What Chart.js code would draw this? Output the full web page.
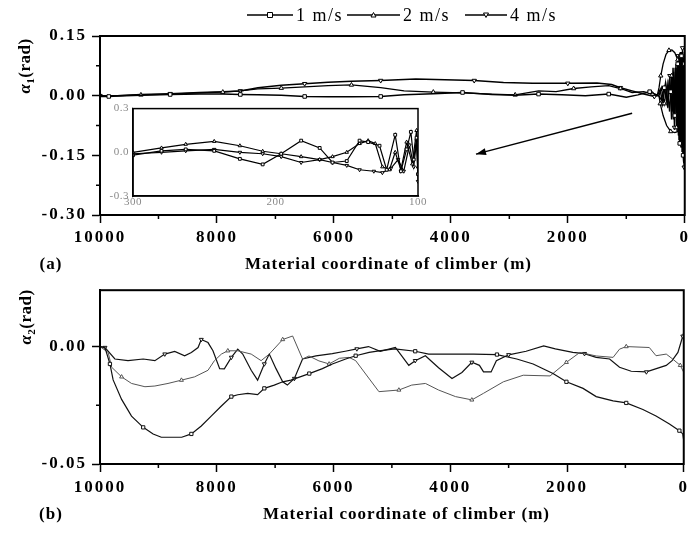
<!DOCTYPE html>
<html>
<head>
<meta charset="utf-8">
<script src="https://cdn.jsdelivr.net/npm/chart.js@4/dist/chart.umd.min.js"></script>
<style>
  html, body { margin: 0; padding: 0; background: #fff; }
  #wrap { position: relative; width: 693px; height: 533px; overflow: hidden; background: #fff; }
  #wrap canvas { position: absolute; }
</style>
</head>
<body>
<div id="wrap">
  <canvas id="topChart" width="693" height="275" style="left:0;top:0"></canvas>
  <canvas id="insetChart" width="330" height="112" style="left:100px;top:98px"></canvas>
  <canvas id="botChart" width="693" height="258" style="left:0;top:275px"></canvas>
</div>
<script>
// ---------- series labels ----------
const speeds = ['1 m/s', '2 m/s', '4 m/s'];

// ---------- (a) alpha_1 vs material coordinate [m, rad] ----------
const a1_1ms = [
  [10000,-0.002],[9850,-0.002],[9700,-0.001],[9300,0.001],[8800,0.003],[8300,0.004],[7900,0.004],
  [7600,0.003],[7300,0.002],[6900,0.001],[6500,-0.002],[6100,-0.003],[5700,-0.003],[5200,-0.002],
  [4800,0.002],[4300,0.005],[3800,0.008],[3300,0.003],[2900,0.001],[2500,0.004],[2100,0.002],
  [1700,0.0],[1300,0.004],[1000,-0.004],[800,0.002],[600,0.010],[450,0.0],[400,-0.01],[350,0.02],
  [300,-0.02],[270,0.03],[240,0.01],[215,-0.04],[190,0.06],[170,-0.05],[150,0.07],[135,-0.06],
  [120,0.08],[108,-0.10],[96,0.10],[86,-0.12],[76,0.11],[66,-0.13],[56,0.10],[46,-0.14],[36,0.11],
  [28,-0.15],[20,0.10],[13,-0.17],[7,0.08],[3,-0.10],[0,0.05]
];
const a1_2ms = [
  [10000,0],[9700,0],[9300,0.002],[8800,0.004],[8300,0.007],[7900,0.009],[7600,0.012],[7300,0.017],
  [6900,0.019],[6500,0.022],[6100,0.025],[5700,0.027],[5200,0.020],[4800,0.012],[4300,0.009],
  [3800,0.007],[3300,0.004],[2900,0.002],[2500,0.012],[2200,0.010],[1900,0.018],[1600,0.022],
  [1300,0.025],[1100,0.018],[900,0.008],[700,0.010],[550,0.004],[470,0.0],[440,0.02],[410,0.05],
  [370,0.08],[320,0.104],[270,0.114],[220,0.115],[170,0.108],[120,0.09],[75,0.06],[40,0.03],
  [22,0.0],[20,-0.03],[30,-0.06],[60,-0.08],[110,-0.09],[170,-0.093],[240,-0.09],[310,-0.075],
  [370,-0.05],[420,-0.02],[440,0.0],[400,0.02],[350,-0.02],[300,0.03],[260,-0.04],[225,0.05],
  [195,-0.06],[165,0.07],[140,-0.08],[118,0.09],[100,-0.1],[84,0.1],[70,-0.11],[57,0.09],
  [45,-0.12],[34,0.1],[24,-0.14],[15,0.09],[8,-0.16],[3,0.07],[0,-0.06]
];
const a1_4ms = [
  [10000,0],[9700,0],[9300,0.003],[8800,0.005],[8300,0.008],[7900,0.010],[7600,0.012],[7300,0.020],
  [6900,0.026],[6500,0.030],[6100,0.034],[5700,0.036],[5200,0.038],[4600,0.042],[4100,0.040],
  [3600,0.038],[3100,0.033],[2600,0.031],[2000,0.031],[1500,0.032],[1250,0.028],[1100,0.020],
  [900,0.012],[700,0.004],[520,-0.002],[470,0.0],[420,0.015],[380,-0.02],[330,0.03],[290,-0.03],
  [255,0.05],[225,-0.06],[200,0.07],[175,-0.08],[150,0.08],[130,-0.09],[112,0.10],[98,-0.11],
  [85,0.10],[72,-0.12],[60,0.11],[48,-0.13],[38,0.12],[28,-0.15],[18,0.10],[10,-0.18],[4,0.09],[0,-0.04]
];

// ---------- (a) inset: last 300 m to 100 m ----------
const in_1ms = [
  [300,-0.02],[280,0.01],[263,0.02],[243,0.01],[225,-0.045],[209,-0.083],[196,-0.01],[182,0.08],
  [169,0.03],[160,-0.07],[150,-0.06],[141,0.08],[135,0.07],[127,0.045],[122,-0.12],[116,0.12],
  [112,-0.13],[108,0.02],[105,0.14],[103,-0.05],[101,0.10],[100,-0.15]
];
const in_2ms = [
  [300,0.0],[280,0.03],[263,0.055],[243,0.075],[225,0.045],[209,0.007],[196,-0.01],[182,-0.03],
  [169,-0.05],[160,-0.03],[150,0.0],[141,0.06],[135,0.08],[130,0.06],[125,-0.10],[120,-0.12],
  [116,0.0],[112,-0.12],[108,0.07],[104,-0.08],[101,0.15],[100,-0.10]
];
const in_4ms = [
  [300,-0.01],[280,0.0],[263,0.01],[243,0.02],[225,0.0],[209,-0.01],[196,-0.03],[182,-0.07],
  [169,-0.05],[160,-0.07],[150,-0.09],[141,-0.12],[131,-0.13],[125,-0.14],[119,-0.11],[114,-0.05],
  [110,-0.13],[106,0.05],[103,-0.10],[101,0.08],[100,-0.20]
];

// ---------- (b) alpha_2 vs material coordinate [m, rad] ----------
const a2_1ms = [
  [10000,0],[9915,-0.0004],[9830,-0.0074],[9775,-0.0142],[9630,-0.0225],[9460,-0.0296],[9260,-0.0344],
  [9090,-0.0372],[8950,-0.0386],[8600,-0.0386],[8435,-0.0372],[8265,-0.0338],[8095,-0.0296],
  [7925,-0.0254],[7750,-0.0213],[7640,-0.0205],[7470,-0.0199],[7300,-0.0205],[7185,-0.0178],
  [7015,-0.0164],[6870,-0.015],[6730,-0.0143],[6415,-0.0115],[6190,-0.0094],[6020,-0.0074],
  [5790,-0.0053],[5620,-0.0039],[5390,-0.0025],[5220,-0.0018],[4950,-0.001],[4600,-0.002],
  [4370,-0.0032],[4000,-0.0032],[3600,-0.0032],[3200,-0.0034],[2860,-0.0053],[2580,-0.0074],
  [2240,-0.0115],[2010,-0.015],[1725,-0.0178],[1500,-0.0213],[1210,-0.0231],[985,-0.024],
  [700,-0.0268],[475,-0.0296],[245,-0.033],[75,-0.0358],[17,-0.0372],[0,-0.040]
];
const a2_2ms = [
  [10000,0],[9860,-0.0025],[9800,-0.0088],[9630,-0.0129],[9460,-0.0157],[9230,-0.0171],[9060,-0.0168],
  [8835,-0.0157],[8605,-0.0143],[8380,-0.0129],[8150,-0.0101],[8040,-0.006],[7920,-0.0032],
  [7810,-0.0018],[7640,-0.0018],[7410,-0.0032],[7240,-0.006],[7100,-0.0032],[6870,0.003],
  [6700,0.0045],[6530,-0.0053],[6420,-0.004],[6250,-0.0061],[6075,-0.0074],[5900,-0.005],
  [5734,-0.0046],[5620,-0.006],[5222,-0.0192],[4880,-0.0185],[4660,-0.0164],[4425,-0.0157],
  [4200,-0.0185],[3910,-0.0213],[3630,-0.0227],[3430,-0.0199],[3090,-0.015],[2750,-0.0122],
  [2290,-0.0125],[2010,-0.0067],[1780,-0.0025],[1500,-0.004],[1210,-0.0046],[1100,-0.0011],
  [985,0.0],[590,-0.0004],[475,-0.0039],[300,-0.0032],[190,-0.0053],[60,-0.008],[0,-0.011]
];
const a2_4ms = [
  [10000,0],[9915,-0.0004],[9745,-0.0053],[9520,-0.006],[9260,-0.0053],[9060,-0.006],[8890,-0.0032],
  [8720,-0.0021],[8550,-0.0039],[8435,-0.0025],[8320,-0.0004],[8265,0.003],[8150,0.0017],
  [8065,-0.0018],[7950,-0.0094],[7870,-0.0095],[7750,-0.0046],[7640,-0.0011],[7555,-0.0032],
  [7410,-0.0101],[7300,-0.0143],[7185,-0.0074],[7100,-0.0032],[6985,-0.0094],[6870,-0.015],
  [6790,-0.0164],[6670,-0.0136],[6530,-0.0053],[6300,-0.004],[6020,-0.003],[5800,-0.002],
  [5600,-0.001],[5400,0.0],[5200,-0.002],[4940,-0.0004],[4710,-0.008],[4600,-0.006],[4426,-0.0039],
  [4200,-0.009],[3970,-0.0136],[3800,-0.011],[3630,-0.0067],[3500,-0.008],[3430,-0.0108],
  [3300,-0.0108],[3210,-0.006],[3000,-0.0035],[2700,-0.002],[2400,0.0003],[2200,-0.001],
  [1900,-0.0025],[1700,-0.003],[1500,-0.0046],[1270,-0.0053],[1100,-0.0088],[900,-0.0105],
  [640,-0.0108],[470,-0.0094],[300,-0.008],[200,-0.006],[100,-0.0025],[17,0.0044],[0,0.006]
];

// ---------- axis ticks ----------
const xMajor = [10000, 8000, 6000, 4000, 2000, 0];
const xMinor = [9000, 7000, 5000, 3000, 1000];
const yMinorA = [0.075, -0.075, -0.225];
const yMinorB = [-0.025];

// arrow pointing from the tail of the curve to the inset (data units)
const arrowTail = [900, -0.044];
const arrowHead = [3570, -0.147];

// ---------- styling ----------
const SERIF = "'Liberation Serif', 'Times New Roman', serif";
const markerStyles = [
  { pointStyle: 'rect', rotation: 0 },
  { pointStyle: 'triangle', rotation: 0 },
  { pointStyle: 'triangle', rotation: 180 }
];

const toXY = arr => arr.map(([x, y]) => ({ x, y }));

function makeSet(label, data, idx, opts) {
  const m = markerStyles[idx];
  return {
    label,
    data: toXY(data),
    borderColor: opts.color,
    borderWidth: opts.width,
    tension: 0,
    fill: false,
    pointStyle: m.pointStyle,
    pointRotation: m.rotation,
    pointRadius: c => (c.dataIndex % opts.every === opts.offset ? opts.r : 0),
    pointBackgroundColor: '#fff',
    pointBorderColor: opts.color,
    pointBorderWidth: 1,
    pointHoverRadius: 0
  };
}

function xScale(min, max, step, height, font, pad) {
  return {
    type: 'linear', min, max, reverse: true,
    ticks: {
      stepSize: step, includeBounds: false, autoSkip: false, maxRotation: 0,
      color: font.color || '#000', font: font, padding: pad,
      callback: v => String(v)
    },
    grid: { drawOnChartArea: false, drawTicks: true, tickLength: font.tick, tickWidth: 1.5, color: '#000' },
    border: { display: true, color: '#000', width: font.border },
    afterFit: s => { s.height = height; }
  };
}
function yScale(min, max, step, width, font, pad, digits) {
  return {
    type: 'linear', min, max,
    ticks: {
      stepSize: step, includeBounds: false, autoSkip: false,
      color: font.color || '#000', font: font, padding: pad,
      callback: v => (Math.abs(v) < 1e-9 ? 0 : v).toFixed(digits)
    },
    grid: { drawOnChartArea: false, drawTicks: true, tickLength: font.tick, tickWidth: 1.5, color: '#000' },
    border: { display: true, color: '#000', width: font.border },
    afterFit: s => { s.width = width; }
  };
}

// frame box, minor ticks and free text drawn around the plot area
function decorPlugin(cfg) {
  return {
    id: 'decor',
    beforeDraw(chart) {
      chart.ctx.letterSpacing = cfg.tickSpacing || '0px';
    },
    afterDraw(chart) {
      const { ctx, chartArea: a, scales } = chart;
      ctx.save();
      ctx.strokeStyle = '#000';
      ctx.lineWidth = cfg.frame;
      ctx.strokeRect(a.left, a.top, a.right - a.left, a.bottom - a.top);
      ctx.lineWidth = 1.5;
      ctx.beginPath();
      (cfg.xMinor || []).forEach(v => {
        const px = scales.x.getPixelForValue(v);
        ctx.moveTo(px, a.bottom); ctx.lineTo(px, a.bottom + cfg.minorLen);
      });
      (cfg.yMinor || []).forEach(v => {
        const py = scales.y.getPixelForValue(v);
        ctx.moveTo(a.left, py); ctx.lineTo(a.left - cfg.minorLen, py);
      });
      ctx.stroke();
      if (cfg.extra) cfg.extra(chart, ctx);
      ctx.restore();
    }
  };
}

function drawYTitle(ctx, cx, cy, sub) {
  ctx.save();
  ctx.translate(cx, cy);
  ctx.rotate(-Math.PI / 2);
  ctx.fillStyle = '#000';
  ctx.textBaseline = 'middle';
  ctx.letterSpacing = '0.5px';
  const fA = 'italic bold 17px ' + SERIF;
  const fS = 'bold 11px ' + SERIF;
  const fR = 'bold 17px ' + SERIF;
  ctx.font = fA; const wA = ctx.measureText('α').width;
  ctx.font = fS; const wS = ctx.measureText(sub).width;
  ctx.font = fR; const wR = ctx.measureText('(rad)').width;
  let x = -(wA + wS + wR) / 2;
  ctx.textAlign = 'left';
  ctx.font = fA; ctx.fillText('α', x, 0); x += wA;
  ctx.font = fS; ctx.fillText(sub, x, 5); x += wS;
  ctx.font = fR; ctx.fillText('(rad)', x, 0);
  ctx.restore();
}

function drawXTitle(ctx, x, y, tag) {
  ctx.save();
  ctx.fillStyle = '#000';
  ctx.textBaseline = 'middle';
  ctx.font = 'bold 17px ' + SERIF;
  ctx.letterSpacing = '1px';
  ctx.textAlign = 'center';
  ctx.fillText(tag, 51, y);
  ctx.textAlign = 'left';
  ctx.fillText('Material coordinate of climber (m)', x, y);
  ctx.restore();
}

function drawMarker(ctx, kind, x, y, r) {
  ctx.beginPath();
  if (kind === 0) {
    ctx.rect(x - r, y - r, 2 * r, 2 * r);
  } else if (kind === 1) {
    ctx.moveTo(x, y - r); ctx.lineTo(x + r, y + r * 0.8); ctx.lineTo(x - r, y + r * 0.8); ctx.closePath();
  } else {
    ctx.moveTo(x, y + r); ctx.lineTo(x + r, y - r * 0.8); ctx.lineTo(x - r, y - r * 0.8); ctx.closePath();
  }
  ctx.fillStyle = '#fff'; ctx.fill();
  ctx.lineWidth = 1; ctx.strokeStyle = '#000'; ctx.stroke();
}

function drawLegend(ctx) {
  const items = [
    { x0: 247, x1: 293, t: 296 },
    { x0: 347, x1: 400, t: 403 },
    { x0: 465, x1: 507, t: 510 }
  ];
  const y = 15;
  ctx.save();
  items.forEach((it, i) => {
    ctx.strokeStyle = '#000'; ctx.lineWidth = 1.5;
    ctx.beginPath(); ctx.moveTo(it.x0, y); ctx.lineTo(it.x1, y); ctx.stroke();
    drawMarker(ctx, i, (it.x0 + it.x1) / 2, y, 2.5);
    ctx.fillStyle = '#000';
    ctx.font = '18px ' + SERIF;
    ctx.letterSpacing = '1.5px';
    ctx.textAlign = 'left'; ctx.textBaseline = 'middle';
    ctx.fillText(speeds[i], it.t, y + 1);
  });
  ctx.restore();
}

function drawArrow(chart, ctx) {
  const sx = chart.scales.x, sy = chart.scales.y;
  const x0 = sx.getPixelForValue(arrowTail[0]), y0 = sy.getPixelForValue(arrowTail[1]);
  const x1 = sx.getPixelForValue(arrowHead[0]), y1 = sy.getPixelForValue(arrowHead[1]);
  const ang = Math.atan2(y1 - y0, x1 - x0);
  ctx.save();
  ctx.strokeStyle = '#000'; ctx.fillStyle = '#000'; ctx.lineWidth = 1.5;
  ctx.beginPath(); ctx.moveTo(x0, y0); ctx.lineTo(x1, y1); ctx.stroke();
  const L = 10, W = 3.5;
  ctx.beginPath();
  ctx.moveTo(x1, y1);
  ctx.lineTo(x1 - L * Math.cos(ang) + W * Math.sin(ang), y1 - L * Math.sin(ang) - W * Math.cos(ang));
  ctx.lineTo(x1 - L * Math.cos(ang) - W * Math.sin(ang), y1 - L * Math.sin(ang) + W * Math.cos(ang));
  ctx.closePath(); ctx.fill();
  ctx.restore();
}

Chart.defaults.font.family = SERIF;
Chart.defaults.color = '#000';

const mainFont = { family: SERIF, size: 17, weight: 'bold', tick: 8, border: 2 };
const commonOpts = {
  responsive: false, animation: false, events: [],
  plugins: { legend: { display: false }, tooltip: { enabled: false } }
};

// ---------- chart (a) ----------
new Chart(document.getElementById('topChart'), {
  type: 'line',
  data: {
    datasets: [
      makeSet(speeds[0], a1_1ms, 0, { color: '#000', width: 1.5, every: 3, offset: 1, r: 2.5 }),
      makeSet(speeds[1], a1_2ms, 1, { color: '#000', width: 1.3, every: 3, offset: 2, r: 2.5 }),
      makeSet(speeds[2], a1_4ms, 2, { color: '#000', width: 1.5, every: 3, offset: 0, r: 2.5 })
    ]
  },
  options: Object.assign({}, commonOpts, {
    layout: { padding: { left: 0, right: 7, top: 36, bottom: 0 } },
    scales: {
      x: xScale(0, 10000, 2000, 60, mainFont, 4),
      y: yScale(-0.30, 0.15, 0.15, 100, mainFont, 5, 2)
    }
  }),
  plugins: [decorPlugin({
    frame: 2, minorLen: 4, xMinor, yMinor: yMinorA, tickSpacing: '2px',
    extra: (chart, ctx) => {
      drawLegend(ctx);
      drawArrow(chart, ctx);
      drawYTitle(ctx, 26, 66, '1');
      drawXTitle(ctx, 245, 265, '(a)');
    }
  })]
});

// ---------- inset of (a) ----------
const insetFont = { family: SERIF, size: 11, weight: 'normal', color: '#8a8a8a', tick: 0, border: 1.5 };
new Chart(document.getElementById('insetChart'), {
  type: 'line',
  data: {
    datasets: [
      makeSet(speeds[0], in_1ms, 0, { color: '#000', width: 1.2, every: 1, offset: 0, r: 2 }),
      makeSet(speeds[1], in_2ms, 1, { color: '#000', width: 1.2, every: 1, offset: 0, r: 2 }),
      makeSet(speeds[2], in_4ms, 2, { color: '#000', width: 1.2, every: 1, offset: 0, r: 2 })
    ]
  },
  options: Object.assign({}, commonOpts, {
    layout: { padding: { left: 0, right: 12, top: 9, bottom: 0 } },
    scales: {
      x: xScale(100, 300, 100, 14, insetFont, 0),
      y: yScale(-0.3, 0.3, 0.3, 33, insetFont, 4, 1)
    }
  }),
  plugins: [decorPlugin({ frame: 1.5, minorLen: 0, tickSpacing: '0.5px' })]
});

// ---------- chart (b) ----------
new Chart(document.getElementById('botChart'), {
  type: 'line',
  data: {
    datasets: [
      makeSet(speeds[0], a2_1ms, 0, { color: '#111', width: 1.2, every: 4, offset: 2, r: 2.3 }),
      makeSet(speeds[1], a2_2ms, 1, { color: '#555', width: 1, every: 5, offset: 3, r: 2.3 }),
      makeSet(speeds[2], a2_4ms, 2, { color: '#111', width: 1.2, every: 5, offset: 1, r: 2.3 })
    ]
  },
  options: Object.assign({}, commonOpts, {
    layout: { padding: { left: 0, right: 7, top: 12, bottom: 0 } },
    scales: {
      x: xScale(0, 10000, 2000, 69, mainFont, 5),
      y: yScale(-0.05, 0.024, 0.05, 100, mainFont, 5, 2)
    }
  }),
  plugins: [decorPlugin({
    frame: 2, minorLen: 4, xMinor, yMinor: yMinorB, tickSpacing: '2px',
    extra: (chart, ctx) => {
      drawYTitle(ctx, 27, 42, '2');
      drawXTitle(ctx, 263, 240, '(b)');
    }
  })]
});
</script>
</body>
</html>
